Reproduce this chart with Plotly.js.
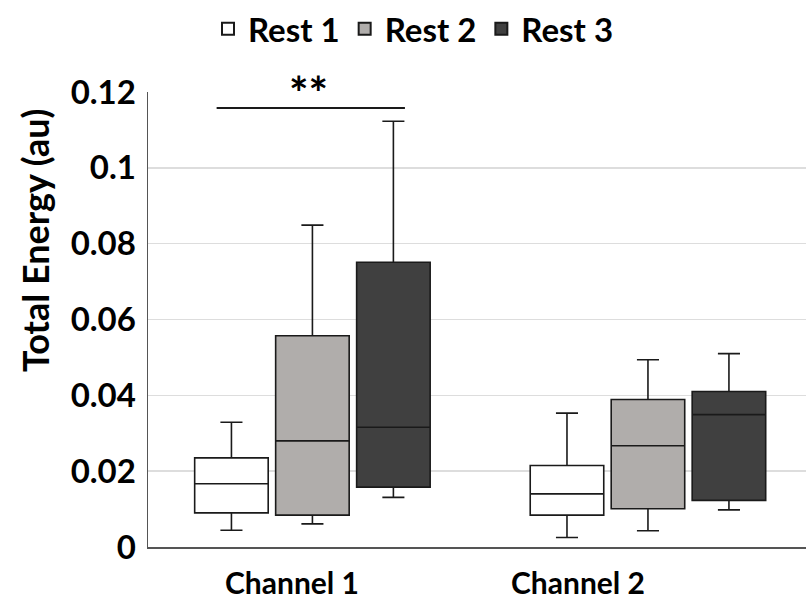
<!DOCTYPE html>
<html>
<head>
<meta charset="utf-8">
<script src="https://cdn.plot.ly/plotly-3.0.1.min.js"></script>
<style>html,body{margin:0;padding:0;background:#fff;}#chart{width:806px;height:600px;}</style>
</head>
<body>
<div id="chart"></div>
<script>
const categories = ['Channel 1', 'Channel 2'];
const seriesNames = ['Rest 1', 'Rest 2', 'Rest 3'];

const rest1Lower  = [0.0044, 0.0025];
const rest1Q1     = [0.0090, 0.0084];
const rest1Median = [0.0167, 0.0140];
const rest1Q3     = [0.0235, 0.0215];
const rest1Upper  = [0.0329, 0.0353];

const rest2Lower  = [0.0061, 0.0043];
const rest2Q1     = [0.0084, 0.0101];
const rest2Median = [0.0280, 0.0267];
const rest2Q3     = [0.0557, 0.0389];
const rest2Upper  = [0.0849, 0.0494];

const rest3Lower  = [0.0131, 0.0098];
const rest3Q1     = [0.0158, 0.0123];
const rest3Median = [0.0316, 0.0349];
const rest3Q3     = [0.0751, 0.0410];
const rest3Upper  = [0.1123, 0.0510];

const yTickVals = [0, 0.02, 0.04, 0.06, 0.08, 0.1, 0.12];
const yTickText = ['0', '0.02', '0.04', '0.06', '0.08', '0.1', '0.12'];

const fills = ['#ffffff', '#b0adab', '#404040'];
const FONT = 'Lato, "Open Sans", sans-serif';

function boxTrace(name, lower, q1, med, q3, upper, fill) {
  return {
    type: 'box', name: name, x: categories,
    lowerfence: lower, q1: q1, median: med, q3: q3, upperfence: upper,
    fillcolor: fill,
    line: {color: '#1a1a1a', width: 1.6},
    whiskerwidth: 0.3,
    boxpoints: false,
    hoverinfo: 'skip'
  };
}

const data = [
  boxTrace(seriesNames[0], rest1Lower, rest1Q1, rest1Median, rest1Q3, rest1Upper, fills[0]),
  boxTrace(seriesNames[1], rest2Lower, rest2Q1, rest2Median, rest2Q3, rest2Upper, fills[1]),
  boxTrace(seriesNames[2], rest3Lower, rest3Q1, rest3Median, rest3Q3, rest3Upper, fills[2])
];

const layout = {
  width: 806, height: 600,
  margin: {l: 148, r: 0, t: 92, b: 53},
  paper_bgcolor: '#ffffff', plot_bgcolor: '#ffffff',
  boxmode: 'group', boxgap: 0.276, boxgroupgap: 0.092,
  showlegend: true,
  legend: {
    orientation: 'h', xref: 'container', yref: 'container',
    x: 0.513, xanchor: 'center', y: 0.952, yanchor: 'middle',
    font: {family: FONT, size: 33, color: '#000', weight: 700},
    itemsizing: 'constant', traceorder: 'normal', itemwidth: 30
  },
  xaxis: {
    type: 'category', range: [-0.49, 1.471],
    showticklabels: false, ticks: '', showgrid: false, zeroline: false,
    showline: true, linecolor: '#555555', linewidth: 2, fixedrange: true
  },
  yaxis: {
    range: [0, 0.12], tickvals: yTickVals, ticktext: yTickText,
    tickfont: {family: FONT, size: 33, color: '#000', weight: 700},
    ticks: '', ticklabelstandoff: 4,
    showgrid: true, gridcolor: '#dddddd', gridwidth: 1.5,
    zeroline: false, showline: true, linecolor: '#555555', linewidth: 1.5,
    fixedrange: true
  },
  shapes: [
    {type: 'line', xref: 'x', yref: 'y', x0: -0.2855, x1: 0.2757, y0: 0.1158, y1: 0.1158,
     line: {color: '#1a1a1a', width: 2}}
  ],
  annotations: [
    {text: 'Total Energy (au)', textangle: -90, xref: 'paper', yref: 'paper',
     x: -0.1717, y: 0.6725, xanchor: 'center', yanchor: 'middle', showarrow: false,
     font: {family: FONT, size: 36, color: '#000', weight: 700}},
    {text: '**', xref: 'x', yref: 'y', x: -0.013, y: 0.1158, yanchor: 'bottom', xanchor: 'center',
     showarrow: false, yshift: -14,
     font: {family: FONT, size: 46, color: '#000', weight: 700}},
    {text: categories[0], xref: 'x', yref: 'paper', x: -0.06, y: -0.076, xanchor: 'center', yanchor: 'middle',
     showarrow: false, font: {family: FONT, size: 30, color: '#000', weight: 700}},
    {text: categories[1], xref: 'x', yref: 'paper', x: 0.79, y: -0.076, xanchor: 'center', yanchor: 'middle',
     showarrow: false, font: {family: FONT, size: 30, color: '#000', weight: 700}}
  ]
};

Plotly.newPlot('chart', data, layout, {staticPlot: true, displayModeBar: false});
</script>
</body>
</html>
